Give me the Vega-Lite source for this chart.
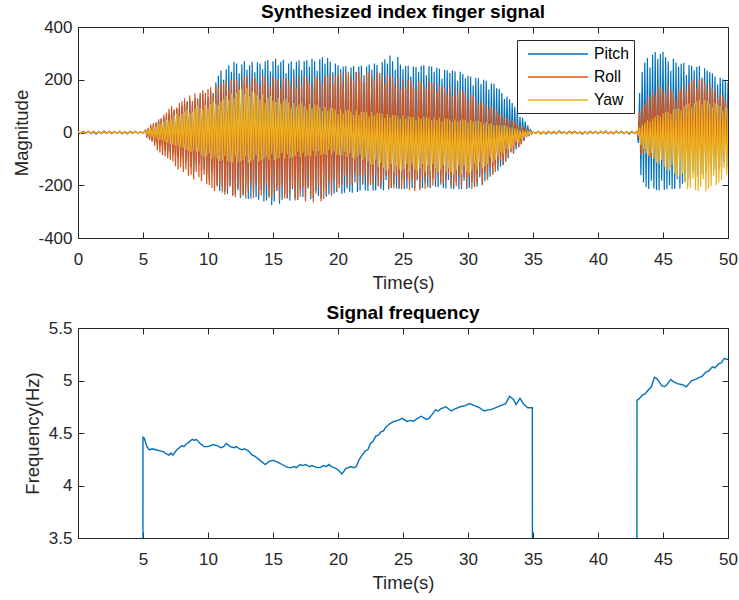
{
  "$schema": "https://vega.github.io/schema/vega-lite/v6.json",
  "background": "white",
  "padding": {"left": 12, "top": 3, "right": 4, "bottom": 4},
  "spacing": 90,
  "bounds": "flush",
  "config": {
    "font": "Liberation Sans",
    "view": {"stroke": null},
    "locale": {"number": {"decimal": ".", "thousands": ",", "grouping": [3], "currency": ["$", ""], "minus": "-"}},
    "axis": {
      "grid": false,
      "domainColor": "#262626",
      "tickColor": "#262626",
      "labelColor": "#262626",
      "titleColor": "#262626",
      "labelFont": "Liberation Sans",
      "titleFont": "Liberation Sans",
      "labelFontSize": 17,
      "titleFontSize": 18.5,
      "titleFontWeight": "normal",
      "tickSize": -6,
      "labelFlush": false,
      "labelOverlap": false,
      "titlePadding": 6,
      "domainWidth": 1,
      "tickWidth": 1
    },
    "axisX": {"labelPadding": 19},
    "axisY": {"labelPadding": 12},
    "title": {"font": "Liberation Sans", "fontSize": 19, "fontWeight": "bold", "color": "#000000", "offset": -4},
    "legend": {
      "labelFont": "Liberation Sans",
      "labelFontSize": 15.7,
      "labelColor": "#000000",
      "strokeColor": "#262626",
      "fillColor": "#ffffff",
      "padding": 5,
      "rowPadding": 6,
      "symbolType": "M-3.75,0H3.75",
      "symbolSize": 256,
      "symbolStrokeWidth": 1.5,
      "symbolOffset": 27,
      "labelOffset": 27,
      "cornerRadius": 0
    }
  },
  "datasets": {
    "sig": [
      {"t":0.0,"pitch":3,"roll":2,"yaw":4},{"t":0.2,"pitch":-4,"roll":-3,"yaw":-2},{"t":0.4,"pitch":5,"roll":3,"yaw":2},{"t":0.6,"pitch":-2,"roll":-4,"yaw":-5},{"t":0.8,"pitch":4,"roll":5,"yaw":3},
      {"t":1.0,"pitch":-5,"roll":-2,"yaw":-3},{"t":1.2,"pitch":2,"roll":4,"yaw":6},{"t":1.4,"pitch":-6,"roll":-3,"yaw":-2},{"t":1.6,"pitch":4,"roll":2,"yaw":3},{"t":1.8,"pitch":-3,"roll":-5,"yaw":-4},
      {"t":2.0,"pitch":6,"roll":3,"yaw":2},{"t":2.2,"pitch":-2,"roll":-4,"yaw":-3},{"t":2.4,"pitch":3,"roll":5,"yaw":4},{"t":2.6,"pitch":-5,"roll":-2,"yaw":-6},{"t":2.8,"pitch":4,"roll":3,"yaw":2},
      {"t":3.0,"pitch":-3,"roll":-4,"yaw":-3},{"t":3.2,"pitch":5,"roll":2,"yaw":5},{"t":3.4,"pitch":-4,"roll":-5,"yaw":-2},{"t":3.6,"pitch":2,"roll":4,"yaw":3},{"t":3.8,"pitch":-6,"roll":-3,"yaw":-4},
      {"t":4.0,"pitch":3,"roll":5,"yaw":2},{"t":4.2,"pitch":-4,"roll":-2,"yaw":-5},{"t":4.4,"pitch":5,"roll":4,"yaw":3},{"t":4.6,"pitch":-3,"roll":-3,"yaw":-2},{"t":4.8,"pitch":4,"roll":2,"yaw":4},
      {"t":5.0,"pitch":-2,"roll":-3,"yaw":-2},
      {"t":5.2,"pitch":8,"roll":9,"yaw":5},{"t":5.3,"pitch":-12,"roll":-20,"yaw":-7},{"t":5.4,"pitch":13,"roll":18,"yaw":10},{"t":5.5,"pitch":-20,"roll":-28,"yaw":-12},
      {"t":5.6,"pitch":19,"roll":30,"yaw":15},{"t":5.7,"pitch":-28,"roll":-36,"yaw":-16},{"t":5.8,"pitch":27,"roll":36,"yaw":20},{"t":5.9,"pitch":-34,"roll":-50,"yaw":-21},
      {"t":6.0,"pitch":34,"roll":40,"yaw":24},{"t":6.1,"pitch":-40,"roll":-68,"yaw":-26},{"t":6.2,"pitch":44,"roll":50,"yaw":30},{"t":6.3,"pitch":-46,"roll":-76,"yaw":-28},
      {"t":6.4,"pitch":50,"roll":55,"yaw":34},{"t":6.5,"pitch":-52,"roll":-85,"yaw":-30},{"t":6.6,"pitch":56,"roll":68,"yaw":40},{"t":6.7,"pitch":-66,"roll":-90,"yaw":-36},
      {"t":6.8,"pitch":62,"roll":76,"yaw":48},{"t":6.9,"pitch":-80,"roll":-98,"yaw":-40},{"t":7.0,"pitch":68,"roll":90,"yaw":44},{"t":7.1,"pitch":-75,"roll":-104,"yaw":-44},
      {"t":7.2,"pitch":72,"roll":100,"yaw":52},{"t":7.3,"pitch":-80,"roll":-110,"yaw":-46},{"t":7.4,"pitch":84,"roll":88,"yaw":64},{"t":7.5,"pitch":-90,"roll":-128,"yaw":-50},
      {"t":7.6,"pitch":90,"roll":95,"yaw":72},{"t":7.7,"pitch":-92,"roll":-140,"yaw":-52},{"t":7.8,"pitch":92,"roll":112,"yaw":60},{"t":7.9,"pitch":-98,"roll":-132,"yaw":-56},
      {"t":8.0,"pitch":100,"roll":118,"yaw":70},{"t":8.1,"pitch":-100,"roll":-150,"yaw":-58},{"t":8.2,"pitch":110,"roll":130,"yaw":80},{"t":8.3,"pitch":-115,"roll":-140,"yaw":-66},
      {"t":8.4,"pitch":118,"roll":112,"yaw":86},{"t":8.5,"pitch":-100,"roll":-165,"yaw":-70},{"t":8.6,"pitch":120,"roll":140,"yaw":74},{"t":8.7,"pitch":-130,"roll":-160,"yaw":-74},
      {"t":8.8,"pitch":104,"roll":120,"yaw":78},{"t":8.9,"pitch":-146,"roll":-178,"yaw":-68},{"t":9.0,"pitch":130,"roll":148,"yaw":90},{"t":9.1,"pitch":-125,"roll":-150,"yaw":-76},
      {"t":9.2,"pitch":128,"roll":128,"yaw":100},{"t":9.3,"pitch":-120,"roll":-170,"yaw":-72},{"t":9.4,"pitch":140,"roll":150,"yaw":92},{"t":9.5,"pitch":-145,"roll":-185,"yaw":-84},
      {"t":9.6,"pitch":145,"roll":160,"yaw":88},{"t":9.7,"pitch":-140,"roll":-160,"yaw":-95},{"t":9.8,"pitch":128,"roll":150,"yaw":104},{"t":9.9,"pitch":-160,"roll":-196,"yaw":-90},
      {"t":10.0,"pitch":135,"roll":165,"yaw":96},{"t":10.1,"pitch":-178,"roll":-200,"yaw":-80},{"t":10.2,"pitch":158,"roll":172,"yaw":108},{"t":10.3,"pitch":-150,"roll":-210,"yaw":-100},
      {"t":10.4,"pitch":150,"roll":145,"yaw":118},{"t":10.5,"pitch":-165,"roll":-222,"yaw":-90},{"t":10.6,"pitch":190,"roll":180,"yaw":110},{"t":10.7,"pitch":-200,"roll":-205,"yaw":-100},
      {"t":10.8,"pitch":215,"roll":170,"yaw":104},{"t":10.9,"pitch":-222,"roll":-195,"yaw":-108},{"t":11.0,"pitch":235,"roll":188,"yaw":118},{"t":11.1,"pitch":-205,"roll":-228,"yaw":-105},
      {"t":11.2,"pitch":200,"roll":190,"yaw":125},{"t":11.3,"pitch":-225,"roll":-236,"yaw":-88},{"t":11.4,"pitch":240,"roll":196,"yaw":138},{"t":11.5,"pitch":-232,"roll":-215,"yaw":-108},
      {"t":11.6,"pitch":255,"roll":165,"yaw":125},{"t":11.7,"pitch":-205,"roll":-200,"yaw":-112},{"t":11.8,"pitch":230,"roll":200,"yaw":148},{"t":11.9,"pitch":-240,"roll":-238,"yaw":-115},
      {"t":12.0,"pitch":268,"roll":200,"yaw":130},{"t":12.1,"pitch":-235,"roll":-245,"yaw":-92},{"t":12.2,"pitch":262,"roll":205,"yaw":150},{"t":12.3,"pitch":-218,"roll":-210,"yaw":-112},
      {"t":12.4,"pitch":225,"roll":175,"yaw":162},{"t":12.5,"pitch":-248,"roll":-242,"yaw":-110},{"t":12.6,"pitch":258,"roll":196,"yaw":166},{"t":12.7,"pitch":-240,"roll":-235,"yaw":-105},
      {"t":12.8,"pitch":270,"roll":212,"yaw":145},{"t":12.9,"pitch":-205,"roll":-250,"yaw":-90},{"t":13.0,"pitch":238,"roll":215,"yaw":168},{"t":13.1,"pitch":-252,"roll":-222,"yaw":-115},
      {"t":13.2,"pitch":255,"roll":182,"yaw":136},{"t":13.3,"pitch":-250,"roll":-192,"yaw":-110},{"t":13.4,"pitch":268,"roll":212,"yaw":155},{"t":13.5,"pitch":-228,"roll":-248,"yaw":-102},
      {"t":13.6,"pitch":228,"roll":208,"yaw":150},{"t":13.7,"pitch":-245,"roll":-196,"yaw":-86},{"t":13.8,"pitch":266,"roll":190,"yaw":140},{"t":13.9,"pitch":-255,"roll":-232,"yaw":-110},
      {"t":14.0,"pitch":262,"roll":180,"yaw":126},{"t":14.1,"pitch":-218,"roll":-240,"yaw":-105},{"t":14.2,"pitch":240,"roll":214,"yaw":145},{"t":14.3,"pitch":-262,"roll":-222,"yaw":-100},
      {"t":14.4,"pitch":270,"roll":210,"yaw":112},{"t":14.5,"pitch":-258,"roll":-200,"yaw":-90},{"t":14.6,"pitch":275,"roll":190,"yaw":132},{"t":14.7,"pitch":-240,"roll":-248,"yaw":-106},
      {"t":14.8,"pitch":232,"roll":174,"yaw":138},{"t":14.9,"pitch":-276,"roll":-252,"yaw":-83},{"t":15.0,"pitch":270,"roll":210,"yaw":120},{"t":15.1,"pitch":-262,"roll":-228,"yaw":-104},
      {"t":15.2,"pitch":280,"roll":206,"yaw":115},{"t":15.3,"pitch":-222,"roll":-212,"yaw":-100},{"t":15.4,"pitch":255,"roll":200,"yaw":132},{"t":15.5,"pitch":-270,"roll":-255,"yaw":-96},
      {"t":15.6,"pitch":268,"roll":170,"yaw":110},{"t":15.7,"pitch":-255,"roll":-204,"yaw":-78},{"t":15.8,"pitch":276,"roll":208,"yaw":120},{"t":15.9,"pitch":-232,"roll":-250,"yaw":-100},
      {"t":16.0,"pitch":225,"roll":205,"yaw":128},{"t":16.1,"pitch":-250,"roll":-248,"yaw":-82},{"t":16.2,"pitch":262,"roll":196,"yaw":115},{"t":16.3,"pitch":-258,"roll":-230,"yaw":-98},
      {"t":16.4,"pitch":270,"roll":177,"yaw":96},{"t":16.5,"pitch":-215,"roll":-206,"yaw":-94},{"t":16.6,"pitch":240,"roll":210,"yaw":112},{"t":16.7,"pitch":-250,"roll":-258,"yaw":-90},
      {"t":16.8,"pitch":268,"roll":168,"yaw":98},{"t":16.9,"pitch":-255,"roll":-255,"yaw":-74},{"t":17.0,"pitch":274,"roll":212,"yaw":106},{"t":17.1,"pitch":-220,"roll":-244,"yaw":-94},
      {"t":17.2,"pitch":236,"roll":180,"yaw":112},{"t":17.3,"pitch":-245,"roll":-210,"yaw":-77},{"t":17.4,"pitch":270,"roll":214,"yaw":100},{"t":17.5,"pitch":-254,"roll":-262,"yaw":-92},
      {"t":17.6,"pitch":275,"roll":208,"yaw":88},{"t":17.7,"pitch":-212,"roll":-208,"yaw":-88},{"t":17.8,"pitch":250,"roll":190,"yaw":108},{"t":17.9,"pitch":-252,"roll":-240,"yaw":-90},
      {"t":18.0,"pitch":280,"roll":178,"yaw":92},{"t":18.1,"pitch":-248,"roll":-265,"yaw":-69},{"t":18.2,"pitch":270,"roll":210,"yaw":106},{"t":18.3,"pitch":-222,"roll":-232,"yaw":-88},
      {"t":18.4,"pitch":234,"roll":212,"yaw":104},{"t":18.5,"pitch":-240,"roll":-204,"yaw":-71},{"t":18.6,"pitch":278,"roll":200,"yaw":96},{"t":18.7,"pitch":-250,"roll":-262,"yaw":-86},
      {"t":18.8,"pitch":285,"roll":178,"yaw":80},{"t":18.9,"pitch":-208,"roll":-252,"yaw":-82},{"t":19.0,"pitch":262,"roll":212,"yaw":98},{"t":19.1,"pitch":-244,"roll":-228,"yaw":-84},
      {"t":19.2,"pitch":282,"roll":215,"yaw":82},{"t":19.3,"pitch":-235,"roll":-192,"yaw":-67},{"t":19.4,"pitch":268,"roll":220,"yaw":94},{"t":19.5,"pitch":-228,"roll":-242,"yaw":-84},
      {"t":19.6,"pitch":228,"roll":185,"yaw":92},{"t":19.7,"pitch":-232,"roll":-180,"yaw":-72},{"t":19.8,"pitch":262,"roll":218,"yaw":86},{"t":19.9,"pitch":-226,"roll":-222,"yaw":-84},
      {"t":20.0,"pitch":255,"roll":222,"yaw":70},{"t":20.1,"pitch":-196,"roll":-210,"yaw":-86},{"t":20.2,"pitch":240,"roll":226,"yaw":88},{"t":20.3,"pitch":-232,"roll":-198,"yaw":-86},
      {"t":20.4,"pitch":250,"roll":191,"yaw":73},{"t":20.5,"pitch":-228,"roll":-164,"yaw":-72},{"t":20.6,"pitch":252,"roll":228,"yaw":86},{"t":20.7,"pitch":-212,"roll":-202,"yaw":-92},
      {"t":20.8,"pitch":210,"roll":230,"yaw":84},{"t":20.9,"pitch":-225,"roll":-198,"yaw":-80},{"t":21.0,"pitch":246,"roll":210,"yaw":80},{"t":21.1,"pitch":-228,"roll":-196,"yaw":-96},
      {"t":21.2,"pitch":252,"roll":194,"yaw":66},{"t":21.3,"pitch":-189,"roll":-157,"yaw":-100},{"t":21.4,"pitch":230,"roll":228,"yaw":84},{"t":21.5,"pitch":-226,"roll":-198,"yaw":-92},
      {"t":21.6,"pitch":250,"roll":230,"yaw":68},{"t":21.7,"pitch":-220,"roll":-165,"yaw":-84},{"t":21.8,"pitch":254,"roll":212,"yaw":80},{"t":21.9,"pitch":-198,"roll":-194,"yaw":-104},
      {"t":22.0,"pitch":217,"roll":192,"yaw":78},{"t":22.1,"pitch":-220,"roll":-158,"yaw":-95},{"t":22.2,"pitch":250,"roll":228,"yaw":76},{"t":22.3,"pitch":-222,"roll":-194,"yaw":-110},
      {"t":22.4,"pitch":258,"roll":230,"yaw":61},{"t":22.5,"pitch":-185,"roll":-200,"yaw":-120},{"t":22.6,"pitch":238,"roll":212,"yaw":78},{"t":22.7,"pitch":-220,"roll":-196,"yaw":-122},
      {"t":22.8,"pitch":262,"roll":194,"yaw":64},{"t":22.9,"pitch":-220,"roll":-162,"yaw":-102},{"t":23.0,"pitch":256,"roll":230,"yaw":74},{"t":23.1,"pitch":-200,"roll":-204,"yaw":-130},
      {"t":23.2,"pitch":225,"roll":226,"yaw":72},{"t":23.3,"pitch":-214,"roll":-206,"yaw":-115},{"t":23.4,"pitch":266,"roll":210,"yaw":70},{"t":23.5,"pitch":-220,"roll":-180,"yaw":-134},
      {"t":23.6,"pitch":278,"roll":187,"yaw":56},{"t":23.7,"pitch":-180,"roll":-166,"yaw":-145},{"t":23.8,"pitch":262,"roll":222,"yaw":70},{"t":23.9,"pitch":-216,"roll":-208,"yaw":-140},
      {"t":24.0,"pitch":292,"roll":214,"yaw":58},{"t":24.1,"pitch":-210,"roll":-210,"yaw":-118},{"t":24.2,"pitch":270,"roll":210,"yaw":68},{"t":24.3,"pitch":-196,"roll":-212,"yaw":-150},
      {"t":24.4,"pitch":238,"roll":178,"yaw":66},{"t":24.5,"pitch":-212,"roll":-170,"yaw":-128},{"t":24.6,"pitch":286,"roll":206,"yaw":62},{"t":24.7,"pitch":-214,"roll":-208,"yaw":-140},
      {"t":24.8,"pitch":258,"roll":164,"yaw":51},{"t":24.9,"pitch":-178,"roll":-215,"yaw":-146},{"t":25.0,"pitch":240,"roll":202,"yaw":64},{"t":25.1,"pitch":-214,"roll":-198,"yaw":-138},
      {"t":25.2,"pitch":252,"roll":170,"yaw":53},{"t":25.3,"pitch":-212,"roll":-175,"yaw":-118},{"t":25.4,"pitch":254,"roll":200,"yaw":62},{"t":25.5,"pitch":-190,"roll":-218,"yaw":-148},
      {"t":25.6,"pitch":212,"roll":198,"yaw":60},{"t":25.7,"pitch":-210,"roll":-178,"yaw":-122},{"t":25.8,"pitch":250,"roll":180,"yaw":58},{"t":25.9,"pitch":-212,"roll":-222,"yaw":-140},
      {"t":26.0,"pitch":248,"roll":166,"yaw":46},{"t":26.1,"pitch":-182,"roll":-176,"yaw":-146},{"t":26.2,"pitch":230,"roll":194,"yaw":58},{"t":26.3,"pitch":-214,"roll":-218,"yaw":-136},
      {"t":26.4,"pitch":252,"roll":194,"yaw":51},{"t":26.5,"pitch":-210,"roll":-172,"yaw":-118},{"t":26.6,"pitch":255,"roll":178,"yaw":60},{"t":26.7,"pitch":-190,"roll":-214,"yaw":-150},
      {"t":26.8,"pitch":217,"roll":164,"yaw":58},{"t":26.9,"pitch":-208,"roll":-168,"yaw":-128},{"t":27.0,"pitch":252,"roll":194,"yaw":56},{"t":27.1,"pitch":-210,"roll":-208,"yaw":-146},
      {"t":27.2,"pitch":250,"roll":190,"yaw":46},{"t":27.3,"pitch":-175,"roll":-202,"yaw":-120},{"t":27.4,"pitch":230,"roll":186,"yaw":58},{"t":27.5,"pitch":-206,"roll":-180,"yaw":-136},
      {"t":27.6,"pitch":245,"roll":155,"yaw":48},{"t":27.7,"pitch":-208,"roll":-158,"yaw":-152},{"t":27.8,"pitch":242,"roll":178,"yaw":56},{"t":27.9,"pitch":-190,"roll":-198,"yaw":-140},
      {"t":28.0,"pitch":204,"roll":175,"yaw":43},{"t":28.1,"pitch":-210,"roll":-196,"yaw":-124},{"t":28.2,"pitch":238,"roll":170,"yaw":54},{"t":28.3,"pitch":-212,"roll":-180,"yaw":-150},
      {"t":28.4,"pitch":236,"roll":146,"yaw":52},{"t":28.5,"pitch":-180,"roll":-160,"yaw":-133},{"t":28.6,"pitch":226,"roll":172,"yaw":48},{"t":28.7,"pitch":-212,"roll":-198,"yaw":-150},
      {"t":28.8,"pitch":235,"roll":136,"yaw":40},{"t":28.9,"pitch":-214,"roll":-205,"yaw":-160},{"t":29.0,"pitch":232,"roll":166,"yaw":50},{"t":29.1,"pitch":-188,"roll":-204,"yaw":-144},
      {"t":29.2,"pitch":196,"roll":140,"yaw":42},{"t":29.3,"pitch":-215,"roll":-166,"yaw":-126},{"t":29.4,"pitch":230,"roll":162,"yaw":46},{"t":29.5,"pitch":-214,"roll":-208,"yaw":-158},
      {"t":29.6,"pitch":222,"roll":158,"yaw":50},{"t":29.7,"pitch":-183,"roll":-170,"yaw":-128},{"t":29.8,"pitch":206,"roll":150,"yaw":48},{"t":29.9,"pitch":-214,"roll":-210,"yaw":-150},
      {"t":30.0,"pitch":215,"roll":128,"yaw":38},{"t":30.1,"pitch":-210,"roll":-171,"yaw":-155},{"t":30.2,"pitch":212,"roll":146,"yaw":48},{"t":30.3,"pitch":-188,"roll":-214,"yaw":-146},
      {"t":30.4,"pitch":178,"roll":138,"yaw":41},{"t":30.5,"pitch":-206,"roll":-206,"yaw":-118},{"t":30.6,"pitch":208,"roll":124,"yaw":44},{"t":30.7,"pitch":-205,"roll":-190,"yaw":-140},
      {"t":30.8,"pitch":206,"roll":107,"yaw":46},{"t":30.9,"pitch":-170,"roll":-160,"yaw":-112},{"t":31.0,"pitch":184,"roll":120,"yaw":40},{"t":31.1,"pitch":-200,"roll":-196,"yaw":-136},
      {"t":31.2,"pitch":200,"roll":115,"yaw":34},{"t":31.3,"pitch":-184,"roll":-147,"yaw":-128},{"t":31.4,"pitch":196,"roll":104,"yaw":40},{"t":31.5,"pitch":-178,"roll":-180,"yaw":-118},
      {"t":31.6,"pitch":163,"roll":89,"yaw":33},{"t":31.7,"pitch":-168,"roll":-134,"yaw":-93},{"t":31.8,"pitch":186,"roll":100,"yaw":36},{"t":31.9,"pitch":-158,"roll":-160,"yaw":-112},
      {"t":32.0,"pitch":185,"roll":95,"yaw":28},{"t":32.1,"pitch":-128,"roll":-150,"yaw":-103},{"t":32.2,"pitch":168,"roll":84,"yaw":30},{"t":32.3,"pitch":-145,"roll":-126,"yaw":-90},
      {"t":32.4,"pitch":166,"roll":69,"yaw":26},{"t":32.5,"pitch":-130,"roll":-104,"yaw":-71},{"t":32.6,"pitch":150,"roll":72,"yaw":27},{"t":32.7,"pitch":-124,"roll":-122,"yaw":-80},
      {"t":32.8,"pitch":127,"roll":53,"yaw":27},{"t":32.9,"pitch":-110,"roll":-110,"yaw":-60},{"t":33.0,"pitch":136,"roll":60,"yaw":24},{"t":33.1,"pitch":-98,"roll":-92,"yaw":-66},
      {"t":33.2,"pitch":126,"roll":46,"yaw":19},{"t":33.3,"pitch":-76,"roll":-71,"yaw":-63},{"t":33.4,"pitch":112,"roll":48,"yaw":20},{"t":33.5,"pitch":-80,"roll":-80,"yaw":-52},
      {"t":33.6,"pitch":98,"roll":42,"yaw":16},{"t":33.7,"pitch":-64,"roll":-51,"yaw":-34},{"t":33.8,"pitch":84,"roll":36,"yaw":14},{"t":33.9,"pitch":-56,"roll":-56,"yaw":-38},
      {"t":34.0,"pitch":60,"roll":25,"yaw":10},{"t":34.1,"pitch":-44,"roll":-44,"yaw":-24},{"t":34.2,"pitch":56,"roll":24,"yaw":9},{"t":34.3,"pitch":-32,"roll":-30,"yaw":-18},
      {"t":34.4,"pitch":42,"roll":18,"yaw":6},{"t":34.5,"pitch":-19,"roll":-18,"yaw":-11},{"t":34.6,"pitch":26,"roll":12,"yaw":5},{"t":34.7,"pitch":-12,"roll":-10,"yaw":-6},
      {"t":34.8,"pitch":14,"roll":6,"yaw":3},{"t":34.9,"pitch":-6,"roll":-5,"yaw":-3},
      {"t":35.0,"pitch":3,"roll":2,"yaw":3},{"t":35.2,"pitch":-4,"roll":-3,"yaw":-5},{"t":35.4,"pitch":5,"roll":4,"yaw":3},{"t":35.6,"pitch":-3,"roll":-6,"yaw":-2},{"t":35.8,"pitch":4,"roll":2,"yaw":5},
      {"t":36.0,"pitch":-6,"roll":-3,"yaw":-4},{"t":36.2,"pitch":3,"roll":5,"yaw":2},{"t":36.4,"pitch":-5,"roll":-2,"yaw":-3},{"t":36.6,"pitch":2,"roll":4,"yaw":6},{"t":36.8,"pitch":-4,"roll":-5,"yaw":-2},
      {"t":37.0,"pitch":6,"roll":3,"yaw":4},{"t":37.2,"pitch":-2,"roll":-4,"yaw":-5},{"t":37.4,"pitch":4,"roll":2,"yaw":3},{"t":37.6,"pitch":-5,"roll":-3,"yaw":-2},{"t":37.8,"pitch":3,"roll":6,"yaw":4},
      {"t":38.0,"pitch":-4,"roll":-2,"yaw":-6},{"t":38.2,"pitch":5,"roll":4,"yaw":2},{"t":38.4,"pitch":-3,"roll":-5,"yaw":-3},{"t":38.6,"pitch":2,"roll":3,"yaw":5},{"t":38.8,"pitch":-6,"roll":-4,"yaw":-2},
      {"t":39.0,"pitch":4,"roll":2,"yaw":3},{"t":39.2,"pitch":-3,"roll":-6,"yaw":-4},{"t":39.4,"pitch":5,"roll":3,"yaw":2},{"t":39.6,"pitch":-2,"roll":-4,"yaw":-5},{"t":39.8,"pitch":3,"roll":5,"yaw":4},
      {"t":40.0,"pitch":-5,"roll":-2,"yaw":-3},{"t":40.2,"pitch":4,"roll":4,"yaw":6},{"t":40.4,"pitch":-3,"roll":-3,"yaw":-2},{"t":40.6,"pitch":6,"roll":2,"yaw":4},{"t":40.8,"pitch":-4,"roll":-5,"yaw":-3},
      {"t":41.0,"pitch":2,"roll":3,"yaw":5},{"t":41.2,"pitch":-5,"roll":-4,"yaw":-2},{"t":41.4,"pitch":3,"roll":6,"yaw":3},{"t":41.6,"pitch":-2,"roll":-3,"yaw":-4},{"t":41.8,"pitch":5,"roll":2,"yaw":2},
      {"t":42.0,"pitch":-4,"roll":-5,"yaw":-5},{"t":42.2,"pitch":3,"roll":4,"yaw":3},{"t":42.4,"pitch":-6,"roll":-2,"yaw":-2},{"t":42.6,"pitch":4,"roll":3,"yaw":6},{"t":42.8,"pitch":-3,"roll":-4,"yaw":-3},
      {"t":43.0,"pitch":5,"roll":2,"yaw":4},{"t":43.1,"pitch":-40,"roll":-20,"yaw":-12},
      {"t":43.2,"pitch":150,"roll":80,"yaw":20},{"t":43.3,"pitch":-162,"roll":-80,"yaw":-48},{"t":43.4,"pitch":230,"roll":100,"yaw":30},{"t":43.5,"pitch":-190,"roll":-86,"yaw":-62},
      {"t":43.6,"pitch":265,"roll":108,"yaw":37},{"t":43.7,"pitch":-208,"roll":-72,"yaw":-80},{"t":43.8,"pitch":282,"roll":130,"yaw":46},{"t":43.9,"pitch":-214,"roll":-92,"yaw":-88},
      {"t":44.0,"pitch":246,"roll":140,"yaw":43},{"t":44.1,"pitch":-183,"roll":-97,"yaw":-78},{"t":44.2,"pitch":295,"roll":158,"yaw":52},{"t":44.3,"pitch":-212,"roll":-98,"yaw":-100},
      {"t":44.4,"pitch":305,"roll":140,"yaw":60},{"t":44.5,"pitch":-218,"roll":-80,"yaw":-115},{"t":44.6,"pitch":280,"roll":172,"yaw":66},{"t":44.7,"pitch":-220,"roll":-100,"yaw":-120},
      {"t":44.8,"pitch":298,"roll":178,"yaw":60},{"t":44.9,"pitch":-183,"roll":-100,"yaw":-104},{"t":45.0,"pitch":306,"roll":160,"yaw":72},{"t":45.1,"pitch":-218,"roll":-96,"yaw":-130},
      {"t":45.2,"pitch":285,"roll":148,"yaw":78},{"t":45.3,"pitch":-215,"roll":-80,"yaw":-142},{"t":45.4,"pitch":270,"roll":178,"yaw":80},{"t":45.5,"pitch":-200,"roll":-100,"yaw":-145},
      {"t":45.6,"pitch":234,"roll":162,"yaw":71},{"t":45.7,"pitch":-215,"roll":-100,"yaw":-123},{"t":45.8,"pitch":280,"roll":150,"yaw":86},{"t":45.9,"pitch":-214,"roll":-98,"yaw":-156},
      {"t":46.0,"pitch":265,"roll":128,"yaw":90},{"t":46.1,"pitch":-177,"roll":-80,"yaw":-170},{"t":46.2,"pitch":250,"roll":162,"yaw":92},{"t":46.3,"pitch":-212,"roll":-100,"yaw":-165},
      {"t":46.4,"pitch":261,"roll":168,"yaw":83},{"t":46.5,"pitch":-194,"roll":-100,"yaw":-154},{"t":46.6,"pitch":264,"roll":180,"yaw":100},{"t":46.7,"pitch":-186,"roll":-96,"yaw":-190},
      {"t":46.8,"pitch":218,"roll":158,"yaw":106},{"t":46.9,"pitch":-180,"roll":-80,"yaw":-215},{"t":47.0,"pitch":256,"roll":190,"yaw":110},{"t":47.1,"pitch":-170,"roll":-100,"yaw":-210},
      {"t":47.2,"pitch":253,"roll":196,"yaw":96},{"t":47.3,"pitch":-146,"roll":-98,"yaw":-175},{"t":47.4,"pitch":236,"roll":200,"yaw":112},{"t":47.5,"pitch":-170,"roll":-96,"yaw":-218},
      {"t":47.6,"pitch":249,"roll":168,"yaw":119},{"t":47.7,"pitch":-164,"roll":-77,"yaw":-223},{"t":47.8,"pitch":252,"roll":202,"yaw":124},{"t":47.9,"pitch":-158,"roll":-94,"yaw":-206},
      {"t":48.0,"pitch":208,"roll":200,"yaw":106},{"t":48.1,"pitch":-156,"roll":-93,"yaw":-177},{"t":48.2,"pitch":244,"roll":192,"yaw":122},{"t":48.3,"pitch":-150,"roll":-90,"yaw":-224},
      {"t":48.4,"pitch":235,"roll":160,"yaw":119},{"t":48.5,"pitch":-126,"roll":-72,"yaw":-213},{"t":48.6,"pitch":228,"roll":184,"yaw":110},{"t":48.7,"pitch":-146,"roll":-90,"yaw":-205},
      {"t":48.8,"pitch":225,"roll":170,"yaw":96},{"t":48.9,"pitch":-140,"roll":-90,"yaw":-164},{"t":49.0,"pitch":212,"roll":160,"yaw":112},{"t":49.1,"pitch":-138,"roll":-88,"yaw":-200},
      {"t":49.2,"pitch":182,"roll":130,"yaw":106},{"t":49.3,"pitch":-136,"roll":-70,"yaw":-190},{"t":49.4,"pitch":208,"roll":146,"yaw":100},{"t":49.5,"pitch":-134,"roll":-86,"yaw":-180},
      {"t":49.6,"pitch":202,"roll":139,"yaw":83},{"t":49.7,"pitch":-112,"roll":-82,"yaw":-136},{"t":49.8,"pitch":196,"roll":128,"yaw":96},{"t":49.9,"pitch":-130,"roll":-80,"yaw":-160},
      {"t":50.0,"pitch":190,"roll":106,"yaw":90}
    ],
    "freq": [
      {"t":0,"f":0},{"t":4.98,"f":0},{"t":5.0,"f":4.46},{"t":5.1,"f":4.45},{"t":5.2,"f":4.41},{"t":5.3,"f":4.37},{"t":5.5,"f":4.34},{"t":5.7,"f":4.35},{"t":6.0,"f":4.34},{"t":6.3,"f":4.33},{"t":6.6,"f":4.32},{"t":6.8,"f":4.3},{"t":7.0,"f":4.29},
      {"t":7.15,"f":4.31},{"t":7.3,"f":4.29},{"t":7.6,"f":4.34},{"t":7.8,"f":4.36},{"t":8.0,"f":4.38},{"t":8.15,"f":4.37},{"t":8.3,"f":4.39},{"t":8.6,"f":4.42},{"t":8.8,"f":4.44},{"t":8.95,"f":4.43},{"t":9.1,"f":4.44},{"t":9.4,"f":4.4},{"t":9.7,"f":4.37},{"t":10.0,"f":4.37},
      {"t":10.2,"f":4.38},{"t":10.4,"f":4.39},{"t":10.7,"f":4.38},{"t":11.0,"f":4.36},{"t":11.2,"f":4.37},{"t":11.4,"f":4.4},{"t":11.7,"f":4.37},{"t":12.0,"f":4.36},{"t":12.2,"f":4.37},{"t":12.4,"f":4.35},{"t":12.6,"f":4.34},{"t":12.8,"f":4.35},{"t":13.1,"f":4.33},{"t":13.4,"f":4.29},
      {"t":13.6,"f":4.28},{"t":13.8,"f":4.26},{"t":14.1,"f":4.23},{"t":14.4,"f":4.2},{"t":14.7,"f":4.23},{"t":15.0,"f":4.24},{"t":15.2,"f":4.23},{"t":15.4,"f":4.22},{"t":15.7,"f":4.2},{"t":16.0,"f":4.18},{"t":16.2,"f":4.17},{"t":16.4,"f":4.17},{"t":16.6,"f":4.18},{"t":16.8,"f":4.17},
      {"t":17.1,"f":4.2},{"t":17.3,"f":4.19},{"t":17.5,"f":4.2},{"t":17.8,"f":4.18},{"t":18.0,"f":4.19},{"t":18.2,"f":4.18},{"t":18.4,"f":4.17},{"t":18.6,"f":4.17},{"t":18.9,"f":4.19},{"t":19.1,"f":4.18},{"t":19.3,"f":4.2},{"t":19.5,"f":4.18},{"t":19.7,"f":4.17},{"t":20.0,"f":4.15},{"t":20.3,"f":4.11},
      {"t":20.6,"f":4.16},{"t":20.8,"f":4.17},{"t":21.0,"f":4.18},{"t":21.2,"f":4.17},{"t":21.4,"f":4.18},{"t":21.6,"f":4.24},{"t":21.8,"f":4.28},{"t":22.1,"f":4.33},{"t":22.3,"f":4.34},{"t":22.5,"f":4.4},{"t":22.7,"f":4.42},{"t":22.9,"f":4.47},{"t":23.1,"f":4.48},{"t":23.3,"f":4.51},{"t":23.5,"f":4.52},{"t":23.7,"f":4.56},{"t":24.0,"f":4.59},
      {"t":24.3,"f":4.61},{"t":24.6,"f":4.62},{"t":24.95,"f":4.64},{"t":25.3,"f":4.61},{"t":25.6,"f":4.62},{"t":25.8,"f":4.61},{"t":26.0,"f":4.63},{"t":26.4,"f":4.66},{"t":26.8,"f":4.63},{"t":27.0,"f":4.64},{"t":27.2,"f":4.67},{"t":27.5,"f":4.72},
      {"t":27.7,"f":4.71},{"t":27.9,"f":4.73},{"t":28.3,"f":4.75},{"t":28.7,"f":4.71},{"t":29.0,"f":4.73},{"t":29.2,"f":4.74},{"t":29.4,"f":4.75},{"t":29.8,"f":4.76},{"t":30.1,"f":4.78},{"t":30.5,"f":4.76},{"t":30.9,"f":4.74},{"t":31.1,"f":4.72},{"t":31.3,"f":4.71},
      {"t":31.5,"f":4.72},{"t":31.7,"f":4.72},{"t":32.1,"f":4.74},{"t":32.5,"f":4.76},{"t":32.9,"f":4.78},{"t":33.2,"f":4.85},{"t":33.5,"f":4.82},{"t":33.7,"f":4.77},{"t":34.0,"f":4.83},{"t":34.3,"f":4.77},{"t":34.6,"f":4.74},
      {"t":34.95,"f":4.74},{"t":34.97,"f":0},{"t":42.98,"f":0},{"t":43.0,"f":4.81},{"t":43.2,"f":4.83},{"t":43.4,"f":4.86},{"t":43.6,"f":4.87},{"t":43.8,"f":4.9},{"t":44.1,"f":4.94},{"t":44.35,"f":5.03},{"t":44.5,"f":5.02},{"t":44.7,"f":4.99},{"t":44.9,"f":4.95},{"t":45.1,"f":4.94},
      {"t":45.3,"f":4.96},{"t":45.6,"f":5.01},{"t":45.8,"f":4.99},{"t":46.1,"f":4.97},{"t":46.5,"f":4.96},{"t":46.8,"f":4.94},{"t":47.0,"f":4.97},{"t":47.2,"f":5.0},{"t":47.5,"f":5.01},{"t":47.8,"f":5.03},{"t":48.0,"f":5.04},{"t":48.3,"f":5.08},{"t":48.5,"f":5.09},{"t":48.8,"f":5.13},{"t":49.0,"f":5.12},{"t":49.3,"f":5.16},{"t":49.5,"f":5.17},{"t":49.7,"f":5.21},{"t":50.0,"f":5.2}
    ]
  },
  "vconcat": [
    {
      "width": 650,
      "height": 211,
      "title": {"text": "Synthesized index finger signal", "frame": "group", "anchor": "middle"},
      "data": {"name": "sig"},
      "layer": [
        {
          "mark": {"type": "line", "strokeWidth": 1.2, "clip": true},
          "encoding": {
            "x": {"field": "t", "type": "quantitative", "scale": {"domain": [0, 50], "nice": false, "zero": false},
                  "axis": {"title": "Time(s)", "values": [0, 5, 10, 15, 20, 25, 30, 35, 40, 45, 50]}},
            "y": {"field": "pitch", "type": "quantitative", "scale": {"domain": [-400, 400], "nice": false},
                  "axis": {"title": "Magnitude", "values": [-400, -200, 0, 200, 400]}},
            "color": {"datum": "Pitch", "type": "nominal",
                      "scale": {"domain": ["Pitch", "Roll", "Yaw"], "range": ["#0072BD", "#D95319", "#EDB120"]},
                      "legend": {"title": null, "orient": "none", "legendX": 439, "legendY": 13}}
          }
        },
        {
          "mark": {"type": "line", "strokeWidth": 1.2, "clip": true},
          "encoding": {
            "x": {"field": "t", "type": "quantitative",
                  "axis": {"orient": "top", "labels": false, "title": null, "values": [0, 5, 10, 15, 20, 25, 30, 35, 40, 45, 50]}},
            "y": {"field": "roll", "type": "quantitative",
                  "axis": {"orient": "right", "labels": false, "title": null, "values": [-400, -200, 0, 200, 400]}},
            "color": {"datum": "Roll", "type": "nominal"}
          }
        },
        {
          "mark": {"type": "line", "strokeWidth": 1.2, "clip": true},
          "encoding": {
            "x": {"field": "t", "type": "quantitative", "axis": null},
            "y": {"field": "yaw", "type": "quantitative", "axis": null},
            "color": {"datum": "Yaw", "type": "nominal"}
          }
        }
      ],
      "resolve": {"axis": {"x": "independent", "y": "independent"}}
    },
    {
      "width": 650,
      "height": 210,
      "title": {"text": "Signal frequency", "frame": "group", "anchor": "middle"},
      "data": {"name": "freq"},
      "layer": [
        {
          "mark": {"type": "line", "strokeWidth": 1.4, "color": "#0072BD", "clip": true},
          "encoding": {
            "x": {"field": "t", "type": "quantitative", "scale": {"domain": [0, 50], "nice": false, "zero": false},
                  "axis": {"title": "Time(s)", "values": [5, 10, 15, 20, 25, 30, 35, 40, 45, 50]}},
            "y": {"field": "f", "type": "quantitative", "scale": {"domain": [3.5, 5.5], "nice": false, "zero": false},
                  "axis": {"title": "Frequency(Hz)", "values": [3.5, 4, 4.5, 5, 5.5], "format": "~g"}}
          }
        },
        {
          "mark": {"type": "line", "strokeOpacity": 0, "clip": true},
          "encoding": {
            "x": {"field": "t", "type": "quantitative",
                  "axis": {"orient": "top", "labels": false, "title": null, "values": [5, 10, 15, 20, 25, 30, 35, 40, 45, 50]}},
            "y": {"field": "f", "type": "quantitative",
                  "axis": {"orient": "right", "labels": false, "title": null, "values": [3.5, 4, 4.5, 5, 5.5]}}
          }
        }
      ],
      "resolve": {"axis": {"x": "independent", "y": "independent"}}
    }
  ]
}
